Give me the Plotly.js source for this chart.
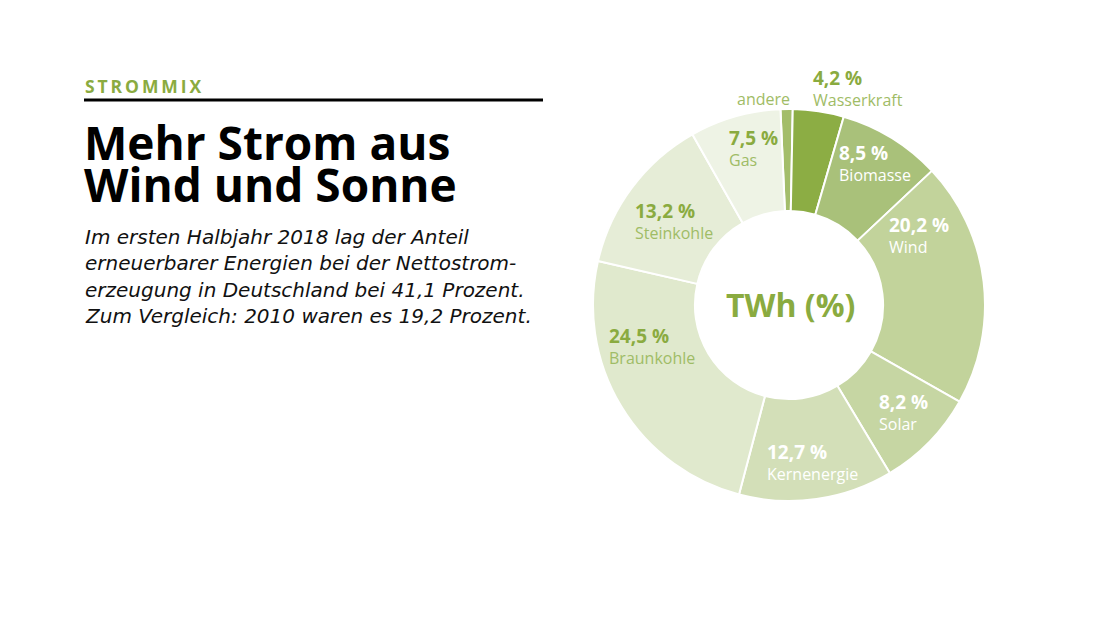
<!DOCTYPE html>
<html><head><meta charset="utf-8">
<script src="https://cdn.plot.ly/plotly-3.0.1.min.js"></script>
<style>html,body{margin:0;padding:0;background:#fff}#chart{width:1100px;height:619px}</style>
</head><body><div id="chart"></div>
<script>
var categories = ["andere","Wasserkraft","Biomasse","Wind","Solar","Kernenergie","Braunkohle","Steinkohle","Gas"];
var shares = [1.0, 4.2, 8.5, 20.2, 8.2, 12.7, 24.5, 13.2, 7.5];
var sliceColors = ["#a3bd6a","#8cad44","#a9c17a","#c2d39b","#c6d6a3","#d3dfb8","#e0e9cd","#e6edd7","#eef3e5"];
var showPercent = [false,true,true,true,true,true,true,true,true];
var labelWhite = [false,false,true,true,true,true,false,false,false];
// label anchor positions in px (left edge, vertical centre of the percent line)
var labelPos = {
  "andere":[792,99], "Wasserkraft":[811,78], "Biomasse":[837,153], "Wind":[887,225],
  "Solar":[877,402], "Kernenergie":[765,452], "Braunkohle":[607,336],
  "Steinkohle":[633,211], "Gas":[727,138]
};
var centerText = "TWh (%)";
var kicker = "STROMMIX";
var titleLines = ["Mehr Strom aus","Wind und Sonne"];
var bodyLines = ["Im ersten Halbjahr 2018 lag der Anteil","erneuerbarer Energien bei der Nettostrom-","erzeugung in Deutschland bei 41,1 Prozent.","Zum Vergleich: 2010 waren es 19,2 Prozent."];

var W = 1100, H = 619;
function px(x){return x/W;}
function py(y){return 1 - y/H;}
var green = "#8aab40", greenLight = "#9fbc66";
var FONT = "Open Sans, sans-serif";
var BODYFONT = "DejaVu Sans, sans-serif";

var cx = 789, cy = 305, R = 196;
var trace = {
  type: "pie", labels: categories, values: shares, sort: false, direction: "clockwise",
  rotation: -2.5, hole: 0.48, textinfo: "none", hoverinfo: "label+percent",
  marker: {colors: sliceColors, line: {color: "#ffffff", width: 2}},
  domain: {x: [px(cx-R), px(cx+R)], y: [py(cy+R), py(cy-R)]},
  showlegend: false
};

var ann = [];
categories.forEach(function(c, i){
  var p = labelPos[c];
  var pctColor = labelWhite[i] ? "#ffffff" : green;
  var nameColor = labelWhite[i] ? "#ffffff" : greenLight;
  if (showPercent[i]) {
    var pct = shares[i].toFixed(1).replace(".", ",") + " %";
    ann.push({xref:"paper", yref:"paper", x: px(p[0]), y: py(p[1]+10), xanchor:"left", yanchor:"middle", align:"left",
      text: "<span style=\"font-size:19px;color:" + pctColor + "\"><b>" + pct + "</b></span><br>" + c,
      showarrow:false, font:{family:FONT, size:16, color:nameColor}});
  } else {
    ann.push({xref:"paper", yref:"paper", x: px(p[0]), y: py(p[1]), xanchor:"right", yanchor:"middle",
      text: c, showarrow:false, font:{family:FONT, size:16, color:greenLight}});
  }
});
ann.push({xref:"paper", yref:"paper", x: px(cx+1), y: py(cy), xanchor:"center", yanchor:"middle",
  text:"<b>"+centerText+"</b>", showarrow:false, font:{family:FONT, size:32, color:green}});
ann.push({xref:"paper", yref:"paper", x: px(83), y: py(86), xanchor:"left", yanchor:"middle",
  text:"<b>"+kicker.split("").join("\u2009")+"</b>", showarrow:false, font:{family:FONT, size:17.5, color:green}});
ann.push({xref:"paper", yref:"paper", x: px(82), y: py(163), xanchor:"left", yanchor:"middle", align:"left",
  text: titleLines.map(function(t){return "<span style=\"font-size:46px\"><b>"+t+"</b></span>";}).join("<br>"),
  showarrow:false, font:{family:FONT, size:32, color:"#000000"}});
bodyLines.forEach(function(t, i){
  ann.push({xref:"paper", yref:"paper", x: px(83), y: py(237 + i*26.3), xanchor:"left", yanchor:"middle",
    text:"<i>"+t+"</i>", showarrow:false, font:{family:BODYFONT, size:20, color:"#111111"}});
});

var layout = {
  width: W, height: H, margin:{l:0,r:0,t:0,b:0},
  paper_bgcolor:"#ffffff", plot_bgcolor:"#ffffff",
  annotations: ann,
  shapes: [{type:"line", xref:"paper", yref:"paper", x0:px(84), x1:px(543), y0:py(100), y1:py(100),
    line:{color:"#000000", width:3}}]
};
Plotly.newPlot("chart", [trace], layout, {displayModeBar:false, staticPlot:true});
</script></body></html>
